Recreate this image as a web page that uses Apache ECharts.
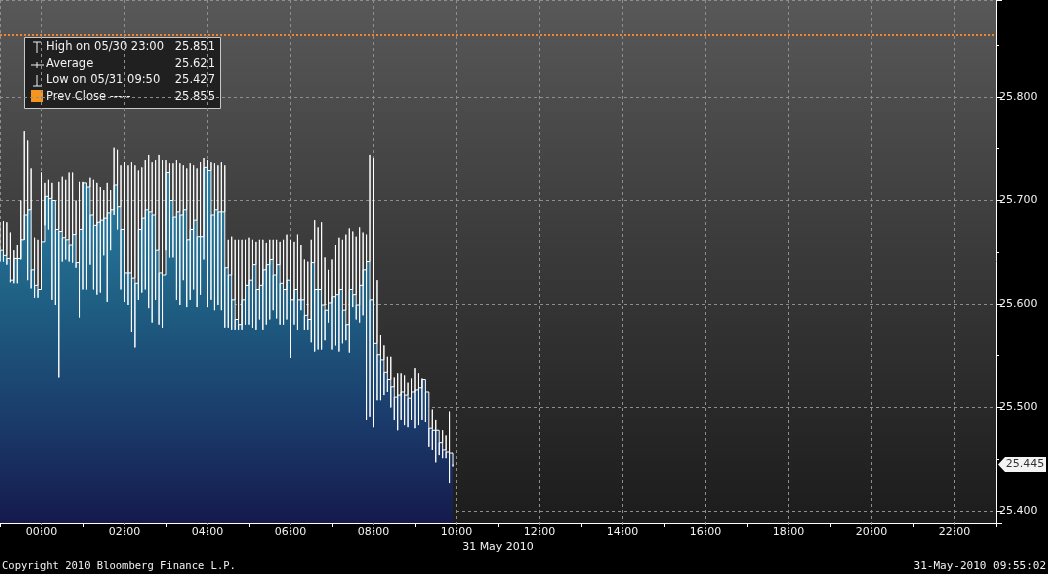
<!DOCTYPE html>
<html>
<head>
<meta charset="utf-8">
<script src="https://cdn.jsdelivr.net/npm/echarts@6/dist/echarts.min.js"></script>
<style>
html,body{margin:0;padding:0;background:#000;}
#c{width:1048px;height:574px;}
</style>
</head>
<body>
<div id="c"></div>
<script>
// ---- data (5-minute bars from 23:00 on 30 May; hours relative to 00:00 on 31 May) ----
const START_HOUR = -1;
const STEP_MIN = 5;
const baseVals = [
  25.652,25.647,25.644,25.623,25.644,25.644,25.662,25.686,25.691,25.633,25.618,25.614,
  25.660,25.704,25.702,25.700,25.672,25.670,25.664,25.662,25.657,25.667,25.640,25.672,
  25.717,25.713,25.686,25.676,25.679,25.681,25.683,25.688,25.691,25.715,25.694,25.672,
  25.630,25.630,25.625,25.620,25.672,25.683,25.691,25.689,25.686,25.652,25.630,25.628,
  25.727,25.700,25.684,25.689,25.686,25.691,25.662,25.672,25.681,25.665,25.665,25.732,
  25.729,25.686,25.691,25.689,25.689,25.635,25.628,25.604,25.585,25.580,25.604,25.618,
  25.623,25.638,25.614,25.618,25.633,25.638,25.643,25.628,25.638,25.620,25.614,25.623,
  25.604,25.614,25.604,25.604,25.589,25.585,25.640,25.614,25.614,25.599,25.594,25.601,
  25.607,25.609,25.614,25.594,25.580,25.614,25.609,25.599,25.618,25.633,25.641,25.604,
  25.562,25.551,25.546,25.534,25.527,25.520,25.510,25.512,25.515,25.512,25.509,25.515,
  25.517,25.519,25.527,25.515,25.480,25.478,25.478,25.466,25.459,25.457,25.456,25.445
];
const highVals = [
  25.679,25.680,25.679,25.669,25.652,25.657,25.700,25.767,25.758,25.731,25.664,25.662,
  25.727,25.717,25.720,25.717,25.700,25.718,25.723,25.720,25.727,25.727,25.700,25.718,
  25.718,25.715,25.722,25.720,25.717,25.713,25.710,25.717,25.710,25.751,25.749,25.734,
  25.737,25.734,25.737,25.734,25.729,25.732,25.739,25.744,25.737,25.739,25.744,25.739,
  25.739,25.736,25.736,25.739,25.736,25.734,25.731,25.736,25.734,25.731,25.737,25.741,
  25.739,25.737,25.736,25.734,25.737,25.734,25.662,25.665,25.662,25.662,25.662,25.662,
  25.664,25.662,25.660,25.662,25.662,25.659,25.662,25.662,25.662,25.660,25.662,25.667,
  25.662,25.660,25.667,25.657,25.643,25.641,25.662,25.681,25.674,25.679,25.645,25.633,
  25.643,25.657,25.664,25.662,25.667,25.673,25.670,25.665,25.674,25.669,25.667,25.744,
  25.741,25.623,25.570,25.560,25.549,25.549,25.529,25.533,25.533,25.531,25.524,25.528,
  25.538,25.533,25.528,25.528,25.499,25.498,25.488,25.478,25.478,25.473,25.496,25.452
];
const lowVals = [
  25.641,25.641,25.638,25.621,25.620,25.620,25.643,25.662,25.623,25.615,25.606,25.606,
  25.623,25.676,25.672,25.604,25.599,25.529,25.641,25.643,25.641,25.640,25.635,25.587,
  25.614,25.614,25.638,25.614,25.609,25.611,25.647,25.602,25.652,25.686,25.672,25.614,
  25.602,25.599,25.573,25.558,25.604,25.611,25.614,25.596,25.582,25.604,25.580,25.577,
  25.652,25.645,25.645,25.604,25.599,25.623,25.597,25.604,25.614,25.597,25.609,25.643,
  25.597,25.604,25.594,25.599,25.594,25.577,25.577,25.575,25.575,25.575,25.575,25.580,
  25.580,25.577,25.575,25.585,25.575,25.580,25.585,25.594,25.586,25.580,25.580,25.585,
  25.548,25.580,25.575,25.594,25.575,25.575,25.563,25.554,25.556,25.556,25.565,25.582,
  25.556,25.560,25.554,25.562,25.565,25.553,25.597,25.585,25.582,25.589,25.488,25.491,
  25.481,25.507,25.507,25.512,25.515,25.500,25.488,25.478,25.488,25.483,25.481,25.488,
  25.480,25.483,25.488,25.486,25.462,25.459,25.447,25.454,25.451,25.451,25.427,25.443
];
const PREV_CLOSE = 25.855;
const LAST_PRICE = 25.445;
const legendLabels = ['High on 05/30 23:00', 'Average', 'Low on 05/31 09:50', 'Prev Close -----'];
const legendValues = ['25.851', '25.621', '25.427', '25.855'];
const DATE_LABEL = '31 May 2010';
const DATE_LABEL_HOUR = 11;
const COPYRIGHT = 'Copyright 2010 Bloomberg Finance L.P.';
const STAMP = '31-May-2010 09:55:02';

// ---- axis extents ----
const X_MIN = -1, X_MAX = 23;
const Y_MIN = 25.3884, Y_MAX = 25.8937;
const FONT = 'DejaVu Sans';

const lineData = [];
baseVals.forEach((b, i) => {
  const t = START_HOUR + i * STEP_MIN / 60;
  lineData.push([t, highVals[i]], [t, lowVals[i]], [t, b]);
});

const chart = echarts.init(document.getElementById('c'));
chart.setOption({
  animation: false,
  backgroundColor: '#000000',
  textStyle: { fontFamily: FONT },
  grid: {
    left: 0, right: 52, top: 0, bottom: 51,
    show: true, borderWidth: 0,
    backgroundColor: new echarts.graphic.LinearGradient(0, 0, 0, 1, [
      { offset: 0, color: '#585858' },
      { offset: 0.5, color: '#393939' },
      { offset: 1, color: '#1c1c1c' }
    ])
  },
  xAxis: [{
    type: 'value', min: X_MIN, max: X_MAX, splitNumber: 12, position: 'bottom', z: 3,
    axisLine: { show: true, onZero: false, lineStyle: { color: '#ffffff', width: 1 } },
    axisTick: { show: true, length: 12, lineStyle: { color: '#9a9a9a', type: [2, 2] } },
    axisLabel: {
      color: '#f2f2f2', fontSize: 11, fontFamily: FONT, margin: 4,
      showMinLabel: false, showMaxLabel: false,
      formatter: v => (v < 10 ? '0' : '') + v + ':00'
    },
    splitLine: { show: true, lineStyle: { color: '#8e8e8e', type: [3, 3], width: 1 } }
  }, {
    type: 'value', min: X_MIN, max: X_MAX, interval: 2, position: 'bottom', z: 3,
    axisLine: { show: false, onZero: false },
    axisTick: { show: true, length: 4, lineStyle: { color: '#ffffff' } },
    axisLabel: { show: false },
    splitLine: { show: false }
  }],
  yAxis: {
    type: 'value', position: 'right', min: Y_MIN, max: Y_MAX, splitNumber: 5, z: 3,
    axisLine: { show: true, onZero: false, lineStyle: { color: '#ffffff', width: 1 } },
    axisTick: { show: true, length: 6, lineStyle: { color: '#ffffff', width: 1 } },
    minorTick: { show: true, splitNumber: 2, length: 3, lineStyle: { color: '#ffffff' } },
    axisLabel: {
      color: '#f2f2f2', fontSize: 11, fontFamily: FONT, margin: 3,
      showMinLabel: false, showMaxLabel: false,
      formatter: v => v.toFixed(3)
    },
    splitLine: { show: true, lineStyle: { color: '#8e8e8e', type: [3, 3], width: 1 } }
  },
  series: [{
    type: 'line',
    xAxisIndex: 0, yAxisIndex: 0,
    data: lineData,
    step: 'end',
    showSymbol: false, symbol: 'none',
    lineStyle: { color: '#ffffff', width: 1 },
    areaStyle: {
      origin: 'start', opacity: 1,
      color: new echarts.graphic.LinearGradient(0, 130, 0, 523, [
        { offset: 0, color: '#2d8aae' },
        { offset: 0.43, color: '#1f6084' },
        { offset: 0.74, color: '#1a3b6b' },
        { offset: 1, color: '#151a4c' }
      ], true)
    },
    markLine: {
      silent: true, symbol: 'none', animation: false,
      label: { show: false },
      lineStyle: { color: '#f0862a', type: [2, 2], width: 2 },
      data: [{ yAxis: PREV_CLOSE }]
    },
    markPoint: {
      silent: true, animation: false,
      symbol: 'path://M0,7 L7,0 L48,0 L48,14 L7,14 Z',
      symbolSize: [48, 15], symbolKeepAspect: false,
      symbolOffset: [26, 0],
      itemStyle: { color: '#f4f4f4' },
      label: {
        show: true, position: 'inside', offset: [3, 0],
        color: '#333333', fontSize: 11, fontFamily: FONT,
        formatter: () => LAST_PRICE.toFixed(3)
      },
      data: [{ coord: [X_MAX, LAST_PRICE] }]
    }
  }]
});

// ---- texts and the legend box ----
const dateX = chart.convertToPixel({ xAxisIndex: 0 }, DATE_LABEL_HOUR);
const bottomY = chart.convertToPixel({ yAxisIndex: 0 }, Y_MIN);

const rowY = [10, 27, 43, 60];
const legendChildren = [{
  type: 'rect', shape: { x: 0.5, y: 0.5, width: 196, height: 71 },
  style: { fill: 'rgba(28,28,28,0.92)', stroke: '#c8c8c8', lineWidth: 1 }
},
{ type: 'line', shape: { x1: 13, y1: 5, x2: 13, y2: 16 }, style: { stroke: '#f0f0f0', lineWidth: 1 } },
{ type: 'line', shape: { x1: 9, y1: 5, x2: 17, y2: 5 }, style: { stroke: '#f0f0f0', lineWidth: 1 } },
{ type: 'line', shape: { x1: 7, y1: 28, x2: 20, y2: 28 }, style: { stroke: '#f0f0f0', lineWidth: 1 } },
{ type: 'line', shape: { x1: 13, y1: 25, x2: 13, y2: 31 }, style: { stroke: '#f0f0f0', lineWidth: 1 } },
{ type: 'line', shape: { x1: 13, y1: 38, x2: 13, y2: 49 }, style: { stroke: '#f0f0f0', lineWidth: 1 } },
{ type: 'line', shape: { x1: 9, y1: 49, x2: 17, y2: 49 }, style: { stroke: '#f0f0f0', lineWidth: 1 } },
{ type: 'rect', shape: { x: 7, y: 53, width: 12, height: 12 }, style: { fill: '#f7941d' } }
];
legendLabels.forEach((t, i) => {
  legendChildren.push({
    type: 'text', x: 22, y: rowY[i],
    style: { text: t, fill: '#f2f2f2', font: '11.5px "DejaVu Sans"', verticalAlign: 'middle', textAlign: 'left' }
  });
  legendChildren.push({
    type: 'text', x: 191, y: rowY[i],
    style: { text: legendValues[i], fill: '#f2f2f2', font: '11.5px "DejaVu Sans"', verticalAlign: 'middle', textAlign: 'right' }
  });
});

chart.setOption({
  graphic: [
    { id: 'legendBox', type: 'group', x: 24, y: 37, z: 100, children: legendChildren },
    {
      id: 'dateLabel', type: 'text', x: dateX, y: bottomY + 24, z: 100,
      style: { text: DATE_LABEL, fill: '#f2f2f2', font: '11px "DejaVu Sans"', textAlign: 'center', verticalAlign: 'middle' }
    },
    {
      id: 'copyright', type: 'text', x: 2, y: 566, z: 100,
      style: { text: COPYRIGHT, fill: '#f2f2f2', font: '10.5px "DejaVu Sans Mono"', textAlign: 'left', verticalAlign: 'middle' }
    },
    {
      id: 'stamp', type: 'text', x: 1046, y: 566, z: 100,
      style: { text: STAMP, fill: '#f2f2f2', font: '11px "DejaVu Sans Mono"', textAlign: 'right', verticalAlign: 'middle' }
    }
  ]
});
</script>
</body>
</html>
